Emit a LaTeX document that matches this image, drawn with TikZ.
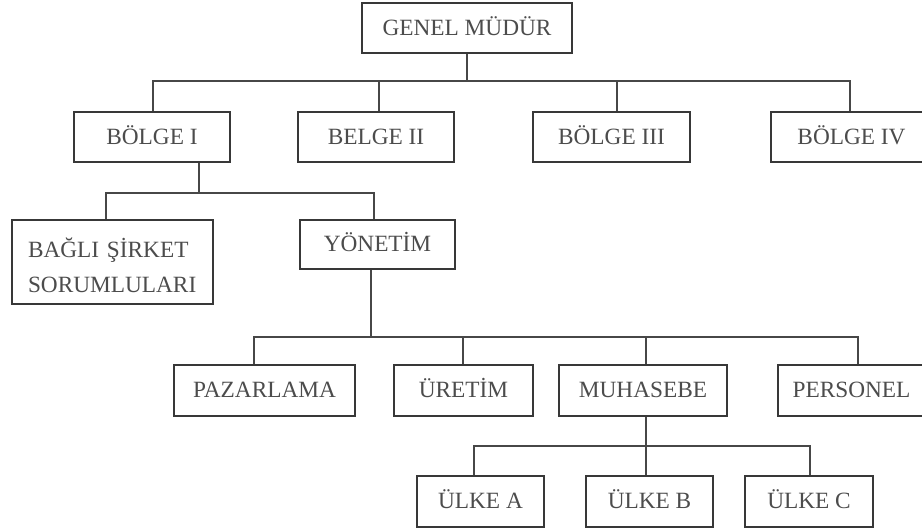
\documentclass[tikz,border=0pt]{standalone}
\usepackage{fontspec}
\setmainfont{Liberation Serif}
\begin{document}
\begin{tikzpicture}[x=1pt,y=-1pt,
  box/.style={draw=black!78, line width=1.7pt, rectangle, inner sep=0pt,
    text=black!70, font=\fontsize{23.3}{35}\selectfont, minimum height=50pt},
  oneline/.style={box, text height=19pt, text depth=5pt},
  conn/.style={draw=black!72, line width=1.5pt}]
\useasboundingbox (0,0) rectangle (922,530);
\clip (0,0) rectangle (922,530);
\fill[white] (0,0) rectangle (922,530);
% nodes
\node[oneline, minimum width=210pt] (GM) at (467,28) {GENEL MÜDÜR};
\node[oneline, minimum width=156pt] (B1) at (152,137) {BÖLGE I};
\node[oneline, minimum width=156pt] (B2) at (376,137) {BELGE II};
\node[oneline, minimum width=157pt] (B3) at (611.5,137) {BÖLGE III};
\node[oneline, minimum width=161pt] (B4) at (851.5,137) {BÖLGE IV};
\node[box, minimum width=201pt, minimum height=84pt, align=left,
      text width=169pt, inner xsep=16pt, inner ysep=0pt] (BAG) at (112.5,262) {\rule{0pt}{27pt}BAĞLI ŞİRKET\\SORUMLULARI};
\node[oneline, minimum width=155pt, minimum height=49pt] (YON) at (377.5,244.5) {YÖNETİM};
\node[oneline, minimum width=181pt, minimum height=51pt] (PAZ) at (264.5,390.5) {PAZARLAMA};
\node[oneline, minimum width=139pt, minimum height=51pt] (URE) at (463.5,390.5) {ÜRETİM};
\node[oneline, minimum width=168pt, minimum height=51pt] (MUH) at (643,390.5) {MUHASEBE};
\node[oneline, minimum width=147pt, minimum height=51pt] (PER) at (851.5,390.5) {PERSONEL};
\node[oneline, minimum width=127pt, minimum height=51pt] (UA) at (480.5,501.5) {ÜLKE A};
\node[oneline, minimum width=127pt, minimum height=51pt] (UB) at (649.5,501.5) {ÜLKE B};
\node[oneline, minimum width=128pt, minimum height=51pt] (UC) at (809,501.5) {ÜLKE C};
% level 1
\coordinate (j1) at (467,81);
\draw[conn] (GM.south) -- (j1);
\draw[conn] ([xshift=1pt]B1.north) |- (j1) -| ([xshift=-1.5pt]B4.north);
\draw[conn] ([xshift=3pt]B2.north) -- ([xshift=3pt]B2.north |- j1);
\draw[conn] ([xshift=5.5pt]B3.north) -- ([xshift=5.5pt]B3.north |- j1);
% level 2
\coordinate (j2) at (199,193);
\draw[conn] ([xshift=47pt]B1.south) -- (j2);
\draw[conn] ([xshift=-6.5pt]BAG.north) |- (j2) -| ([xshift=-3.5pt]YON.north);
% level 3
\coordinate (j3) at (371,337);
\draw[conn] ([xshift=-6.5pt]YON.south) -- (j3);
\draw[conn] ([xshift=-10.5pt]PAZ.north) |- (j3) -| ([xshift=6.5pt]PER.north);
\draw[conn] ([xshift=-0.5pt]URE.north) -- ([xshift=-0.5pt]URE.north |- j3);
\draw[conn] ([xshift=3pt]MUH.north) -- ([xshift=3pt]MUH.north |- j3);
% level 4
\coordinate (j4) at (646,446);
\draw[conn] ([xshift=3pt]MUH.south) -- (j4);
\draw[conn] ([xshift=-6.5pt]UA.north) |- (j4) -| ([xshift=1pt]UC.north);
\draw[conn] ([xshift=-3.5pt]UB.north) -- ([xshift=-3.5pt]UB.north |- j4);
\end{tikzpicture}
\end{document}
